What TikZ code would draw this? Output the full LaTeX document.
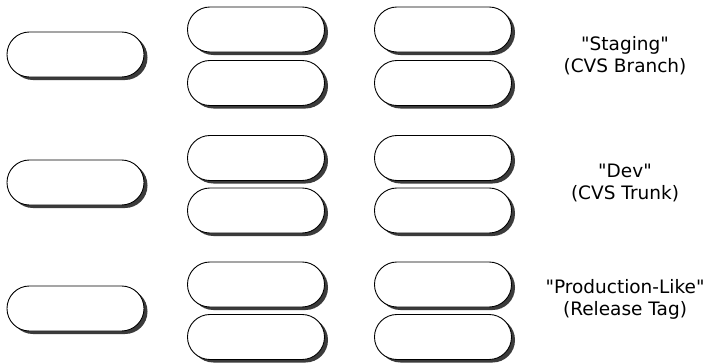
\documentclass[tikz,border=0pt]{standalone}
\usepackage{fontspec}
\setmainfont{DejaVu Sans}[Ligatures=TeXOff]
\usetikzlibrary{shadows}
\begin{document}
\begin{tikzpicture}[x=1pt,y=-1pt,
  pill/.style={draw=black, line width=0.9pt, fill=white, minimum width=137pt, minimum height=45pt,
    rounded corners=22.4pt, inner sep=0pt,
    drop shadow={shadow xshift=3.5pt, shadow yshift=-3pt, fill=black!85, opacity=0.9}},
  lbl/.style={align=center, font=\fontsize{18.5}{22}\selectfont, inner sep=0pt}]
\useasboundingbox (0,0) rectangle (712,364);
% row 1
\node[pill] (a1) at (75.5,54.5) {};
\node[pill] (b1) at (256,29.5) {};
\node[pill] (c1) at (256,83) {};
\node[pill] (d1) at (443,29.5) {};
\node[pill] (e1) at (443,83) {};
\node[lbl] (t1) at (625,56) {"Staging"\\(CVS Branch)};
% row 2
\node[pill] (a2) at (75.5,182.5) {};
\node[pill] (b2) at (256,158) {};
\node[pill] (c2) at (256,210.5) {};
\node[pill] (d2) at (443,158) {};
\node[pill] (e2) at (443,210.5) {};
\node[lbl] (t2) at (625,183) {"Dev"\\(CVS Trunk)};
% row 3
\node[pill] (a3) at (75.5,308.5) {};
\node[pill] (b3) at (256,284.5) {};
\node[pill] (c3) at (256,337) {};
\node[pill] (d3) at (443,284.5) {};
\node[pill] (e3) at (443,337) {};
\node[lbl] (t3) at (625,299) {"Production-Like"\\(Release Tag)};
\end{tikzpicture}
\end{document}
